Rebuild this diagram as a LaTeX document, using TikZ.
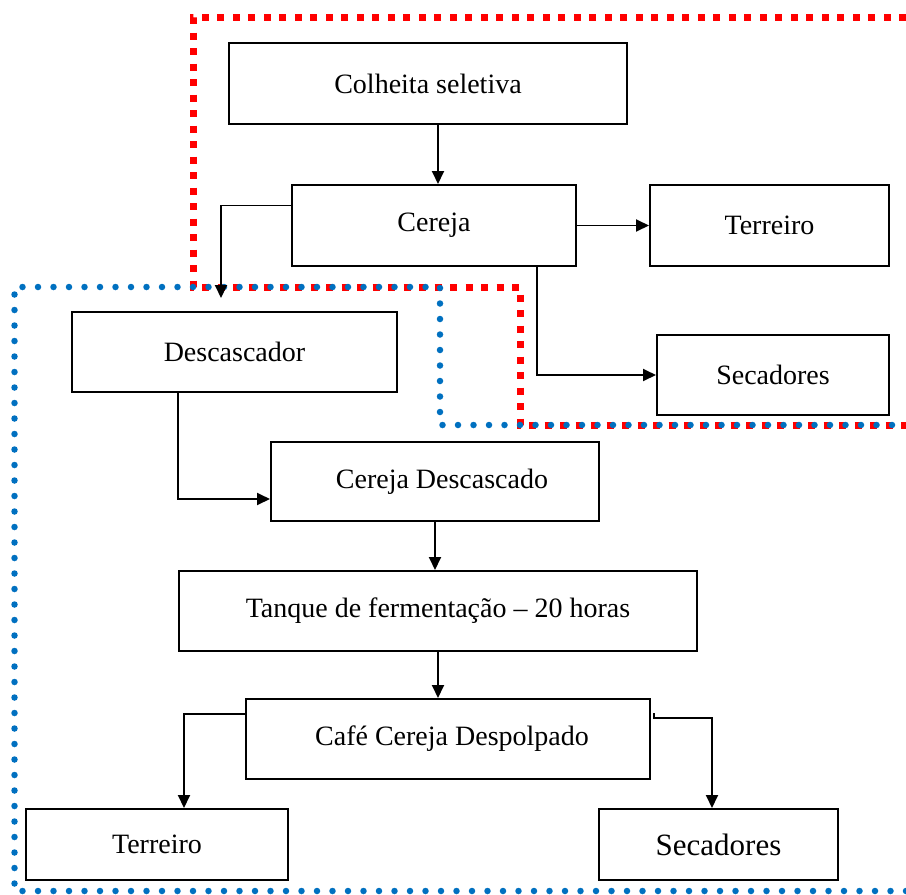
\documentclass[tikz,border=0pt]{standalone}
\usepackage{fontspec}
\setmainfont{Liberation Serif}
\usetikzlibrary{arrows.meta}
\definecolor{zoneblue}{RGB}{0,112,192}
\definecolor{zonered}{RGB}{255,0,0}
\tikzset{
  box/.style={draw, line width=2pt, inner sep=0pt, font=\fontsize{28}{32}\selectfont},
  conn/.style={line width=1.9pt, -{Triangle[length=13pt,width=12pt]}},
  redzone/.style={draw=zonered, line width=7pt, dash pattern=on 7pt off 8.5pt},
  bluezone/.style={draw=zoneblue, line width=6.5pt, line cap=round, dash pattern=on 0pt off 15.5pt}
}
\begin{document}
\begin{tikzpicture}[x=1pt,y=-1pt]
\useasboundingbox (0,0) rectangle (906,895);
\fill[white] (0,0) rectangle (906,895);
% zones
\draw[redzone] (906,17) -- (193,17) -- (193,287) -- (520,287) -- (520,425) -- (906,425);
\draw[bluezone] (906,891) -- (14.5,891) -- (14.5,287) -- (440,287) -- (440,425) -- (906,425);
% nodes
\node[box, minimum width=398pt, minimum height=81pt] (colheita) at (428,83.5) {Colheita seletiva};
\node[box, minimum width=284pt, minimum height=81pt] (cereja) at (434,225.5) {Cereja};
\node[box, minimum width=239pt, minimum height=81pt] (terreiroA) at (769.5,225.5) {Terreiro};
\node[box, minimum width=232pt, minimum height=80pt] (secadoresA) at (773,375) {Secadores};
\node[box, minimum width=325pt, minimum height=80pt] (descascador) at (234.5,352) {Descascador};
\node[box, minimum width=328pt, minimum height=79pt] (cdesc) at (435,481.5) {\hspace*{14pt}Cereja Descascado};
\node[box, minimum width=518pt, minimum height=80pt] (tanque) at (438,611) {Tanque de fermentação – 20 horas};
\node[box, minimum width=404pt, minimum height=80pt] (cafe) at (448,739) {\hspace*{8pt}Café Cereja Despolpado};
\node[box, minimum width=262pt, minimum height=71pt] (terreiroB) at (157,844.5) {Terreiro};
\node[box, minimum width=239pt, minimum height=71pt, font=\fontsize{31}{35}\selectfont] (secadoresB) at (718.5,844.5) {Secadores};
\coordinate (descTip) at (221,298);
% connectors
\draw[conn] ([xshift=10pt]colheita.south) -- ([xshift=4pt]cereja.north);
\draw[conn] (cereja.east) -- (terreiroA.west);
\draw[conn] ([yshift=20pt]cereja.west) -| (descTip);
\draw[conn] ([xshift=103pt]cereja.south) |- (secadoresA.west);
\draw[conn] ([xshift=-56.5pt]descascador.south) |- ([yshift=-17.5pt]cdesc.west);
\draw[conn] (cdesc.south) -- (cdesc.south |- tanque.north);
\draw[conn] (tanque.south) -- (tanque.south |- cafe.north);
\draw[conn] ([yshift=25pt]cafe.west) -| ([xshift=27pt]terreiroB.north);
\draw[conn] ([xshift=3pt,yshift=26pt]cafe.east) -- ++(0,5) -| ([xshift=-6.5pt]secadoresB.north);
\end{tikzpicture}
\end{document}
